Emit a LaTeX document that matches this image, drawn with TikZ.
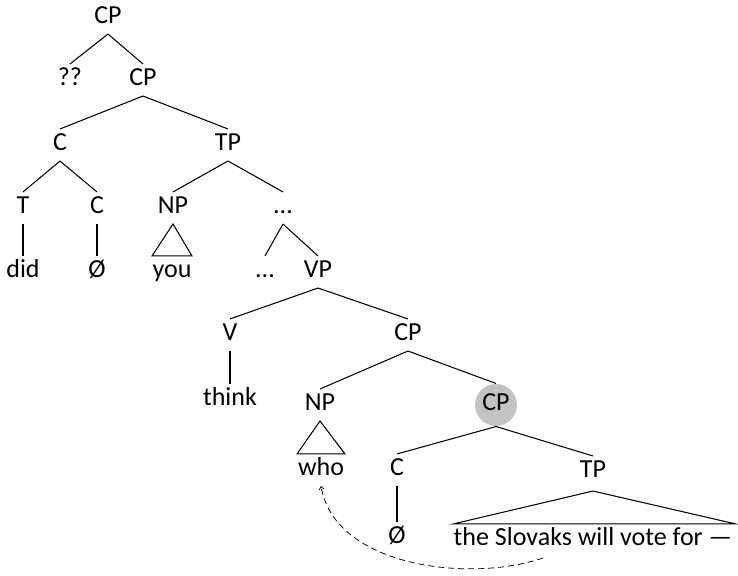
\documentclass[tikz,border=0pt]{standalone}
\usepackage{fontspec}
\setmainfont{Carlito}
\usetikzlibrary{positioning, calc, arrows.meta}

\begin{document}
\begin{tikzpicture}[x=1pt, y=1pt, line width=1.05pt,
    lbl/.style={inner sep=4.5pt, text height=17pt, text depth=5pt, font=\fontsize{26}{30}\selectfont},
    hilite/.style={lbl, circle, fill=gray!47, minimum size=42pt, inner sep=0pt},
    move/.style={line width=0.75pt, dash pattern=on 6pt off 4pt, -{Straight Barb[length=3pt,width=5pt]}}]

    % Canvas
    \useasboundingbox (0,0) rectangle (738,575);

    % --- MATRIX CLAUSE ---
    \node[lbl] (cp1) at (108,557) {CP};
    \node[lbl] (qq)  at (70,495)  {??};
    \node[lbl] (cp2) at (143,495) {CP};
    \node[lbl] (c1)  at (60,430)  {C};
    \node[lbl] (tp1) at (228,430) {TP};

    % Head complex and subject
    \node[lbl] (t)     at (23,367)  {T};
    \node[lbl] (c2)    at (97,367)  {C};
    \node[lbl] (np1)   at (173,367) {NP};
    \node[lbl] (dots1) at (283,367) {...};
    \node[lbl] (did)   at (23,303)  {did};
    \node[lbl] (null1) at (97,303)  {Ø};
    \node[lbl] (you)   at (172,303) {you};
    \node[lbl] (dots2) at (265,303) {...};
    \node[lbl] (vp)    at (318,303) {VP};

    % --- EMBEDDED CLAUSE ---
    \node[lbl]    (v)     at (230,240) {V};
    \node[lbl]    (cp3)   at (408,240) {CP};
    \node[lbl]    (think) at (230,175) {think};
    \node[lbl]    (np2)   at (320,170) {NP};
    \node[hilite] (cp4)   at (496,170) {CP};
    \node[lbl]    (who)   at (321,105) {who};
    \node[lbl]    (c3)    at (397,105) {C};
    \node[lbl]    (tp2)   at (593,103) {TP};
    \node[lbl]    (null2) at (397,37)  {Ø};
    \node[lbl, inner xsep=0pt] (slovaks) at (593,36) {the Slovaks will vote for —};

    % Branches
    \draw (cp1.south) -- (qq.north);
    \draw (cp1.south) -- (cp2.north);
    \draw (cp2.south) -- (c1.north);
    \draw (cp2.south) -- (tp1.north);
    \draw (c1.south) -- (t.north);
    \draw (c1.south) -- (c2.north);
    \draw (tp1.south) -- (np1.north);
    \draw (tp1.south) -- (dots1.north);
    \draw (t.south) -- (did.north);
    \draw (c2.south) -- (null1.north);
    \draw (dots1.south) -- (dots2.north);
    \draw (dots1.south) -- (vp.north);
    \draw (vp.south) -- (v.north);
    \draw (vp.south) -- (cp3.north);
    \draw (v.south) -- (think.north);
    \draw (cp3.south) -- (np2.north);
    \draw (cp3.south) -- (cp4.north);
    \draw (cp4.south) -- (c3.north);
    \draw (cp4.south) -- (tp2.north);
    \draw (c3.south) -- (null2.north);

    % Triangles
    \draw (np1.south) -- ([xshift=-20pt]you.north) -- ([xshift=20pt]you.north) -- cycle;
    \draw (np2.south) -- ([xshift=-24pt]who.north) -- ([xshift=24pt]who.north) -- cycle;
    \draw ([yshift=-3pt]tp2.south) -- ([yshift=-1pt]slovaks.north west)
          -- ([xshift=3pt, yshift=-1pt]slovaks.north east) -- cycle;

    % Movement of the wh-phrase
    \coordinate (trace) at (543,17);
    \draw[move] (trace) .. controls (470,-8) and (335,8) .. (who.south);

\end{tikzpicture}
\end{document}
